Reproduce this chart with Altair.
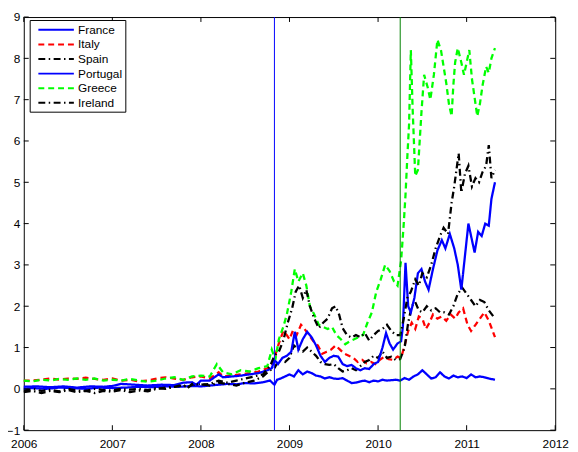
import altair as alt
import pandas as pd

countries = ["France", "Italy", "Spain", "Portugal", "Greece", "Ireland"]
colors = ["#0000FF", "#FF0000", "#000000", "#0000FF", "#00FF00", "#000000"]
dashes = [[1, 0], [6, 4], [7, 3.5, 1.5, 3.5], [1, 0], [6, 4], [7, 3.5, 1.5, 3.5]]

france_t = [2006.0, 2006.1, 2006.25, 2006.4, 2006.55, 2006.7, 2006.85, 2007.0, 2007.15, 2007.3, 2007.45, 2007.6,
            2007.75, 2007.9, 2008.0, 2008.1, 2008.2, 2008.3, 2008.4, 2008.5, 2008.6, 2008.7, 2008.78, 2008.83,
            2008.86, 2008.9, 2008.95, 2009.0, 2009.05, 2009.1, 2009.15, 2009.2, 2009.25, 2009.3, 2009.35, 2009.4,
            2009.45, 2009.5, 2009.55, 2009.6, 2009.65, 2009.7, 2009.75, 2009.8, 2009.85, 2009.9, 2009.95, 2010.0,
            2010.05, 2010.1, 2010.15, 2010.2, 2010.25, 2010.3, 2010.35, 2010.4, 2010.45, 2010.5, 2010.55, 2010.6,
            2010.65, 2010.7, 2010.75, 2010.8, 2010.85, 2010.9, 2010.95, 2011.0, 2011.05, 2011.1, 2011.15, 2011.2,
            2011.25, 2011.32]
france_v = [0.0, 0.02, 0.0, 0.03, 0.02, 0.0, 0.03, 0.02, 0.03, 0.05, 0.04, 0.06,
            0.05, 0.07, 0.06, 0.08, 0.1, 0.12, 0.11, 0.14, 0.13, 0.16, 0.2, 0.1,
            0.22, 0.25, 0.3, 0.35, 0.3, 0.45, 0.35, 0.42, 0.38, 0.32, 0.3, 0.25,
            0.28, 0.25, 0.24, 0.26, 0.2, 0.14, 0.15, 0.18, 0.2, 0.16, 0.2, 0.18,
            0.22, 0.2, 0.21, 0.22, 0.2, 0.26, 0.22, 0.3, 0.35, 0.45, 0.35, 0.25,
            0.28, 0.4, 0.3, 0.25, 0.32, 0.28, 0.3, 0.26, 0.35, 0.28, 0.3, 0.28,
            0.25, 0.22]

portugal_t = [2006.0, 2006.15, 2006.3, 2006.45, 2006.6, 2006.75, 2006.9, 2007.0, 2007.1, 2007.25, 2007.4, 2007.55,
              2007.7, 2007.8, 2007.9, 2007.95, 2008.0, 2008.1, 2008.2, 2008.25, 2008.35, 2008.45, 2008.55, 2008.65,
              2008.75, 2008.8, 2008.83, 2008.87, 2008.92, 2008.97, 2009.02, 2009.06, 2009.1, 2009.15, 2009.2, 2009.25,
              2009.3, 2009.35, 2009.4, 2009.45, 2009.5, 2009.55, 2009.6, 2009.65, 2009.7, 2009.75, 2009.8, 2009.85,
              2009.9, 2009.95, 2010.0, 2010.05, 2010.09, 2010.13, 2010.17, 2010.22, 2010.26, 2010.28, 2010.31, 2010.34,
              2010.37, 2010.41, 2010.45, 2010.49, 2010.53, 2010.57, 2010.62, 2010.67, 2010.72, 2010.76, 2010.81, 2010.86,
              2010.9, 2010.94, 2010.98, 2011.02, 2011.06, 2011.09, 2011.13, 2011.17, 2011.21, 2011.25, 2011.28, 2011.32]
portugal_v = [0.05, 0.06, 0.04, 0.06, 0.03, 0.06, 0.05, 0.07, 0.12, 0.1, 0.08, 0.1,
              0.09, 0.15, 0.16, 0.1, 0.2, 0.2, 0.35, 0.28, 0.3, 0.32, 0.35, 0.38,
              0.45, 0.5, 0.7, 0.6, 0.75, 0.8, 0.9, 1.38, 0.95, 1.2, 1.38, 1.25,
              1.05, 0.8, 0.65, 0.75, 0.8, 0.78, 0.6, 0.55, 0.58, 0.5, 0.45, 0.5,
              0.48, 0.6, 0.65, 1.0, 1.35, 1.1, 0.95, 1.1, 1.15, 1.5, 3.05, 2.0,
              1.85, 2.2, 2.8, 2.9, 2.6, 2.4, 2.9, 3.35, 3.6, 3.4, 3.75, 3.4,
              3.0, 2.4, 3.2, 4.0, 3.6, 3.3, 3.8, 3.7, 4.0, 3.95, 4.6, 5.0]

italy_t = [2006.0, 2006.1, 2006.2, 2006.3, 2006.4, 2006.5, 2006.6, 2006.7, 2006.8, 2006.9, 2007.0, 2007.1,
           2007.2, 2007.3, 2007.4, 2007.5, 2007.6, 2007.7, 2007.8, 2007.9, 2008.0, 2008.1, 2008.2, 2008.25,
           2008.35, 2008.45, 2008.55, 2008.65, 2008.75, 2008.8, 2008.83, 2008.88, 2008.93, 2008.97, 2009.0, 2009.04,
           2009.08, 2009.13, 2009.17, 2009.22, 2009.27, 2009.32, 2009.37, 2009.42, 2009.47, 2009.52, 2009.57, 2009.62,
           2009.67, 2009.72, 2009.77, 2009.82, 2009.87, 2009.92, 2009.97, 2010.02, 2010.07, 2010.12, 2010.17, 2010.22,
           2010.26, 2010.3, 2010.34, 2010.38, 2010.42, 2010.46, 2010.5, 2010.54, 2010.58, 2010.62, 2010.67, 2010.72,
           2010.77, 2010.82, 2010.87, 2010.91, 2010.96, 2011.01, 2011.05, 2011.1, 2011.15, 2011.2, 2011.25, 2011.32]
italy_v = [0.2, 0.2, 0.22, 0.25, 0.22, 0.25, 0.24, 0.27, 0.24, 0.22, 0.25, 0.2,
           0.22, 0.18, 0.2, 0.25, 0.28, 0.25, 0.22, 0.28, 0.3, 0.25, 0.4, 0.3,
           0.32, 0.35, 0.38, 0.42, 0.5, 0.55, 0.75, 1.1, 1.4, 1.3, 1.2, 1.42,
           1.3, 1.55, 1.45, 1.3, 1.15, 1.05, 0.85, 0.9, 0.95, 1.05, 0.95, 0.85,
           0.8, 0.75, 0.65, 0.7, 0.62, 0.65, 0.6, 0.7, 0.78, 0.72, 0.7, 0.78,
           0.75, 1.05, 1.4, 1.6, 1.45, 1.75, 1.7, 1.45, 1.6, 1.8, 1.7, 1.75,
           1.65, 1.8, 1.7, 1.85, 1.95, 1.55, 1.4, 1.55, 1.7, 1.85, 1.65, 1.25]

greece_t = [2006.0, 2006.1, 2006.2, 2006.3, 2006.4, 2006.5, 2006.6, 2006.7, 2006.8, 2006.9, 2007.0, 2007.1,
            2007.2, 2007.3, 2007.4, 2007.5, 2007.6, 2007.7, 2007.8, 2007.9, 2008.0, 2008.1, 2008.18, 2008.25,
            2008.35, 2008.45, 2008.55, 2008.65, 2008.75, 2008.8, 2008.84, 2008.88, 2008.93, 2008.97, 2009.02, 2009.06,
            2009.1, 2009.15, 2009.19, 2009.23, 2009.28, 2009.33, 2009.38, 2009.43, 2009.48, 2009.53, 2009.58, 2009.63,
            2009.68, 2009.73, 2009.78, 2009.83, 2009.88, 2009.93, 2009.98, 2010.03, 2010.08, 2010.13, 2010.18, 2010.22,
            2010.26, 2010.29, 2010.31, 2010.33, 2010.35, 2010.37, 2010.39, 2010.42, 2010.45, 2010.49, 2010.52, 2010.56,
            2010.59, 2010.63, 2010.67, 2010.71, 2010.74, 2010.77, 2010.8, 2010.83, 2010.85, 2010.87, 2010.9, 2010.94,
            2010.97, 2011.0, 2011.03, 2011.06, 2011.09, 2011.12, 2011.15, 2011.18, 2011.22, 2011.25, 2011.28, 2011.32]
greece_v = [0.2, 0.18, 0.22, 0.2, 0.24, 0.22, 0.25, 0.22, 0.25, 0.2, 0.22, 0.2,
            0.24, 0.2, 0.17, 0.2, 0.25, 0.28, 0.22, 0.3, 0.32, 0.3, 0.6, 0.4,
            0.35, 0.45, 0.42, 0.5, 0.55, 0.95, 0.7, 1.2, 1.5, 1.8, 2.35, 2.9,
            2.6, 2.8, 2.5, 2.0, 1.8, 1.55, 1.5, 1.45, 1.5, 1.3, 1.2, 1.08,
            1.15, 1.2, 1.25, 1.3, 1.6, 1.85, 2.35, 2.65, 3.0, 2.85, 2.6, 2.5,
            3.1, 4.0, 4.7, 5.6, 6.4, 8.2, 6.8, 5.15, 5.3, 6.7, 7.6, 7.3,
            7.0, 7.6, 8.45, 8.2, 7.8, 7.4, 6.9, 6.6, 7.35, 7.9, 8.25, 7.9,
            7.6, 7.9, 8.2, 7.5, 7.05, 6.6, 6.9, 7.35, 7.8, 7.65, 8.0, 8.25]

spain_t = [2006.0, 2006.1, 2006.2, 2006.3, 2006.4, 2006.5, 2006.6, 2006.7, 2006.8, 2006.9, 2007.0, 2007.1,
           2007.2, 2007.3, 2007.4, 2007.5, 2007.6, 2007.7, 2007.8, 2007.85, 2007.9, 2008.0, 2008.1, 2008.2,
           2008.3, 2008.4, 2008.5, 2008.6, 2008.7, 2008.78, 2008.83, 2008.88, 2008.95, 2009.0, 2009.05, 2009.1,
           2009.15, 2009.2, 2009.25, 2009.3, 2009.35, 2009.4, 2009.45, 2009.5, 2009.55, 2009.6, 2009.65, 2009.7,
           2009.75, 2009.8, 2009.85, 2009.9, 2009.95, 2010.0, 2010.05, 2010.1, 2010.15, 2010.2, 2010.25, 2010.3,
           2010.34, 2010.38, 2010.42, 2010.46, 2010.5, 2010.55, 2010.6, 2010.65, 2010.7, 2010.75, 2010.8, 2010.85,
           2010.9, 2010.95, 2011.0, 2011.05, 2011.1, 2011.15, 2011.2, 2011.25, 2011.32]
spain_v = [-0.05, 0.0, -0.05, -0.02, -0.06, 0.0, -0.04, -0.05, 0.0, -0.03, -0.04, 0.0,
           -0.02, 0.0, -0.03, 0.02, 0.0, 0.05, 0.08, 0.03, 0.1, 0.12, 0.08, 0.15,
           0.12, 0.08, 0.15, 0.2, 0.3, 0.45, 0.5, 0.7, 0.65, 0.75, 1.05, 0.95,
           0.9, 1.0, 0.9, 0.8, 0.65, 0.6, 0.58, 0.6, 0.5, 0.42, 0.45, 0.5,
           0.45, 0.55, 0.65, 0.7, 0.8, 0.75, 0.9, 0.75, 0.78, 0.7, 0.72, 1.0,
           1.6, 2.0, 2.1, 1.9, 1.85, 2.0, 1.9, 1.95, 1.85, 1.85, 1.8, 2.0,
           2.3, 2.45, 2.3, 2.15, 2.0, 2.15, 2.1, 1.9, 1.7]

ireland_t = [2006.0, 2006.1, 2006.2, 2006.3, 2006.4, 2006.5, 2006.6, 2006.7, 2006.8, 2006.9, 2007.0, 2007.1,
             2007.2, 2007.3, 2007.4, 2007.5, 2007.6, 2007.7, 2007.8, 2007.85, 2007.9, 2008.0, 2008.1, 2008.2,
             2008.3, 2008.4, 2008.5, 2008.6, 2008.7, 2008.78, 2008.83, 2008.88, 2008.93, 2008.98, 2009.03, 2009.07,
             2009.11, 2009.15, 2009.19, 2009.23, 2009.28, 2009.33, 2009.38, 2009.43, 2009.48, 2009.52, 2009.56, 2009.6,
             2009.65, 2009.7, 2009.75, 2009.8, 2009.85, 2009.9, 2009.95, 2010.0, 2010.05, 2010.1, 2010.15, 2010.2,
             2010.25, 2010.29, 2010.33, 2010.37, 2010.42, 2010.46, 2010.5, 2010.55, 2010.6, 2010.65, 2010.7, 2010.74,
             2010.79, 2010.83, 2010.86, 2010.91, 2010.94, 2010.98, 2011.02, 2011.06, 2011.1, 2011.14, 2011.18, 2011.22,
             2011.25, 2011.28, 2011.32]
ireland_v = [-0.08, -0.05, -0.1, -0.05, -0.08, -0.03, -0.08, -0.05, -0.1, -0.05, -0.07, -0.03,
             -0.08, -0.04, -0.06, 0.0, 0.03, 0.05, 0.1, 0.02, 0.12, 0.1, 0.12, 0.2,
             0.15, 0.2, 0.25, 0.3, 0.35, 0.55, 0.8, 0.9, 1.17, 1.6, 1.95, 2.35,
             2.5, 2.2, 2.4, 2.0, 1.7, 1.47, 1.6, 1.7, 1.95, 2.0, 1.8, 1.47,
             1.3, 1.24, 1.3, 1.25, 1.35, 1.17, 1.3, 1.4, 1.45, 1.55, 1.4, 1.3,
             1.3, 1.7, 2.2, 2.35, 2.65, 2.5, 2.8, 2.7, 3.0, 3.4, 3.7, 3.9,
             3.75, 4.5, 4.9, 5.7, 4.75, 5.2, 5.4, 4.9, 5.1, 5.0, 5.25, 5.4,
             5.9, 5.1, 5.3]

event_blue = [2008.83]
event_green = [2010.25]
x_ticks = [2006, 2007, 2008, 2009, 2010, 2011, 2012]
y_ticks = [-1, 0, 1, 2, 3, 4, 5, 6, 7, 8, 9]

series = {
    "France": (france_t, france_v),
    "Italy": (italy_t, italy_v),
    "Spain": (spain_t, spain_v),
    "Portugal": (portugal_t, portugal_v),
    "Greece": (greece_t, greece_v),
    "Ireland": (ireland_t, ireland_v),
}
rows = []
for name, (ts, vs) in series.items():
    for i, (t, v) in enumerate(zip(ts, vs)):
        rows.append({"year": t, "value": v, "country": name, "idx": i})
df = pd.DataFrame(rows)

W, H = 539, 419
FONT = "Liberation Sans"

xscale = alt.Scale(domain=[2006, 2012], nice=False, zero=False)
yscale = alt.Scale(domain=[-1, 9], nice=False, zero=False)
xaxis = alt.Axis(values=x_ticks, format="d", title=None, labelFlush=False, labelPadding=9,
                 labelBaseline="top")
yaxis = alt.Axis(values=y_ticks, format="d", title=None, labelFlush=False, labelPadding=4)

legend = alt.Legend(
    title=None, orient="none", legendX=6, legendY=3,
    symbolType="M-0.2,0H5.8", symbolSize=144, symbolStrokeWidth=2,
    labelFont=FONT, labelFontSize=12, labelColor="black", labelOffset=32,
    fillColor="white", strokeColor="black", padding=3, rowPadding=1.8,
    symbolLimit=0,
)

lines = alt.Chart(df).mark_line(strokeWidth=2.3).encode(
    x=alt.X("year:Q", scale=xscale, axis=xaxis),
    y=alt.Y("value:Q", scale=yscale, axis=yaxis),
    color=alt.Color("country:N", scale=alt.Scale(domain=countries, range=colors), legend=legend),
    strokeDash=alt.StrokeDash("country:N", scale=alt.Scale(domain=countries, range=dashes), legend=legend),
    order=alt.Order("idx:Q"),
)

rule_blue = alt.Chart(pd.DataFrame({"t": event_blue})).mark_rule(color="#0000FF", strokeWidth=1).encode(
    x=alt.X("t:Q", scale=xscale, axis=xaxis))
rule_green = alt.Chart(pd.DataFrame({"t": event_green})).mark_rule(color="#008000", strokeWidth=1).encode(
    x=alt.X("t:Q", scale=xscale, axis=xaxis))

xt = pd.DataFrame({"t": x_ticks})
yt = pd.DataFrame({"v": y_ticks})
tick_bottom = alt.Chart(xt).mark_rule(color="black").encode(
    x=alt.X("t:Q", scale=xscale, axis=xaxis), y=alt.value(H - 5), y2=alt.value(H))
tick_top = alt.Chart(xt).mark_rule(color="black").encode(
    x=alt.X("t:Q", scale=xscale, axis=xaxis), y=alt.value(0), y2=alt.value(5))
tick_left = alt.Chart(yt).mark_rule(color="black").encode(
    y=alt.Y("v:Q", scale=yscale, axis=yaxis), x=alt.value(0), x2=alt.value(5))
tick_right = alt.Chart(yt).mark_rule(color="black").encode(
    y=alt.Y("v:Q", scale=yscale, axis=yaxis), x=alt.value(W - 5), x2=alt.value(W))

chart = alt.layer(lines, tick_bottom, tick_top, tick_left, tick_right, rule_blue, rule_green).properties(
    width=W, height=H,
    padding={"left": 16, "top": 6, "right": 15, "bottom": 20},
    autosize=alt.AutoSizeParams(type="none"),
).configure_view(
    stroke="black", strokeWidth=1
).configure_axis(
    ticks=False, domain=False, grid=False, labelFlush=False,
    labelFont=FONT, labelFontSize=12, labelColor="black",
)

chart.save("out.html", embed_options={"renderer": "svg", "actions": False})
